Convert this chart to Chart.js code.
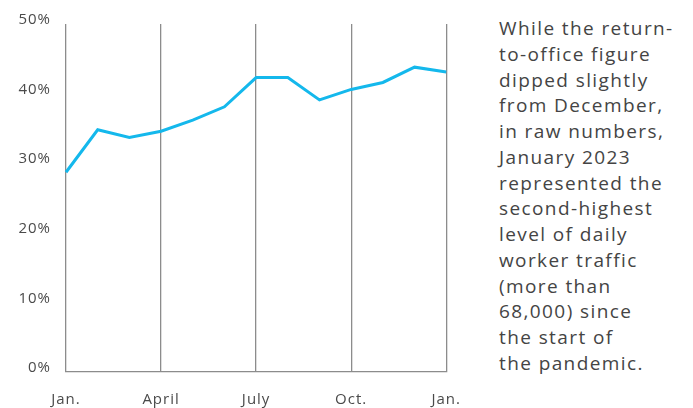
<!DOCTYPE html>
<html>
<head>
<meta charset="utf-8">
<script src="https://cdn.jsdelivr.net/npm/chart.js@4"></script>
<style>
  html, body { margin: 0; padding: 0; background: #ffffff; }
  #wrap { position: relative; width: 693px; height: 408px; overflow: hidden; }
  #chartBox { position: absolute; left: 0; top: 0; width: 478px; height: 408px; }
  #note {
    position: absolute; left: 499px; top: 16px;
    font-family: "Open Sans", "Noto Sans", sans-serif; font-size: 19px; line-height: 25.75px;
    color: #444444; white-space: nowrap; letter-spacing: 1.4px;
  }
</style>
</head>
<body>
<div id="wrap">
  <div id="chartBox"><canvas id="c"></canvas></div>
  <div id="note">While the return-<br>to-office figure<br>dipped slightly<br>from December,<br>in raw numbers,<br>January 2023<br>represented the<br>second-highest<br>level of daily<br>worker traffic<br>(more than<br>68,000) since<br>the start of<br>the pandemic.</div>
</div>
<script>
const months = ["Jan.", "", "", "April", "", "", "July", "", "", "Oct.", "", "", "Jan."];
const returnToOffice = [28.7, 34.8, 33.7, 34.6, 36.2, 38.1, 42.3, 42.3, 39.1, 40.6, 41.6, 43.8, 43.1];
const yTicks = [0, 10, 20, 30, 40, 50];

const textColor = "#4a4a4a";
const gridColor = "#8c8c8c";
const tickFont = { family: "'Open Sans', 'Noto Sans', sans-serif", size: 15 };

const letterSpacingPlugin = {
  id: "letterSpacing",
  beforeDraw: (chart) => { chart.ctx.letterSpacing = "1px"; }
};

new Chart(document.getElementById("c"), {
  type: "line",
  data: {
    labels: months,
    datasets: [{
      data: returnToOffice,
      borderColor: "#14b8ec",
      borderWidth: 3,
      pointRadius: 0,
      tension: 0,
      fill: false
    }]
  },
  plugins: [letterSpacingPlugin],
  options: {
    responsive: true,
    maintainAspectRatio: false,
    animation: false,
    layout: { padding: { left: 0, right: 15, top: 24, bottom: 0 } },
    plugins: { legend: { display: false }, tooltip: { enabled: false } },
    scales: {
      x: {
        type: "category",
        offset: false,
        grid: {
          drawTicks: false,
          color: (ctx) => (ctx.index % 3 === 0 ? gridColor : "rgba(0,0,0,0)"),
          lineWidth: 1.3
        },
        border: { display: true, color: gridColor, width: 1.3 },
        ticks: {
          autoSkip: false,
          maxRotation: 0,
          padding: 19,
          color: textColor,
          font: tickFont
        },
        afterFit: (s) => { s.height = 36; }
      },
      y: {
        min: 0,
        max: 50,
        afterBuildTicks: (s) => { s.ticks = yTicks.map(v => ({ value: v })); },
        grid: { display: false, drawTicks: false },
        border: { display: false },
        ticks: {
          padding: 15,
          labelOffset: -4,
          color: textColor,
          font: tickFont,
          callback: (v) => v + "%"
        },
        afterFit: (s) => { s.width = 66; }
      }
    }
  }
});
</script>
</body>
</html>
